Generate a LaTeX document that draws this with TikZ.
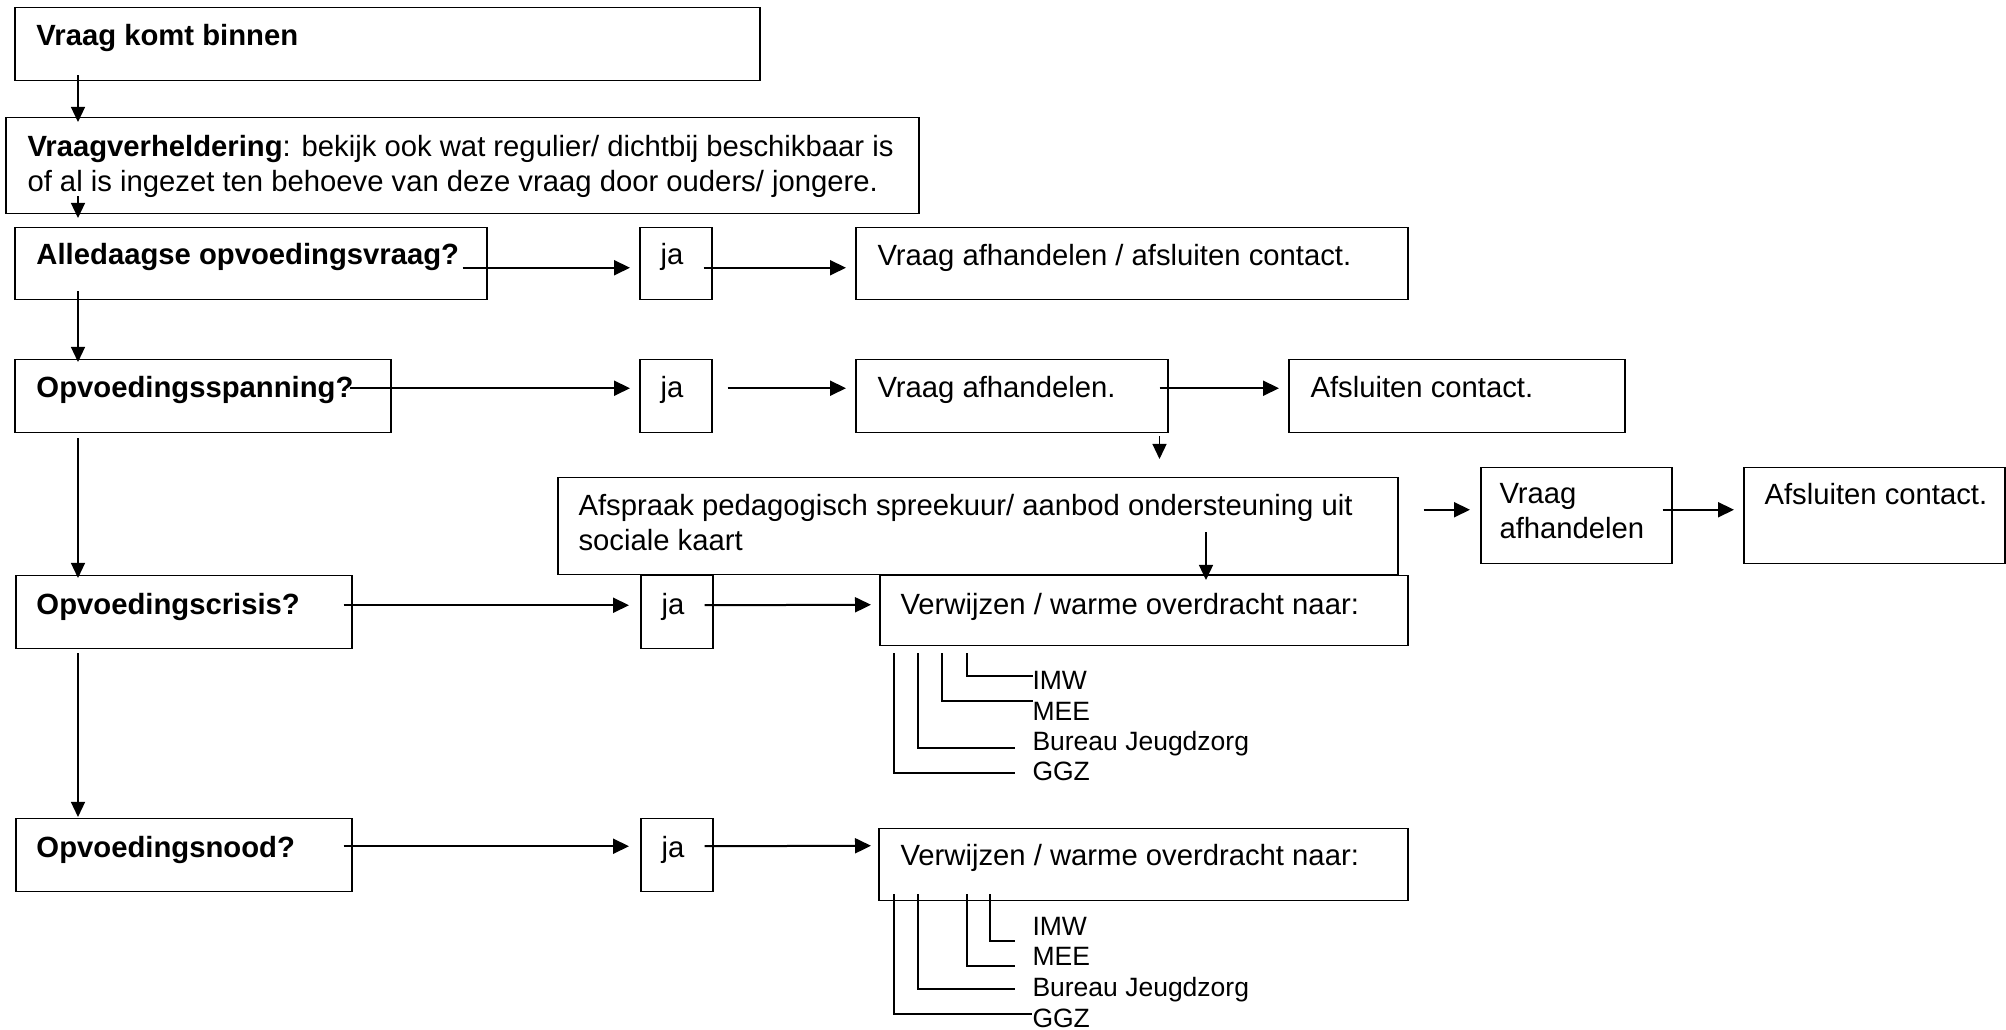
\documentclass[tikz,border=0pt]{standalone}
\usepackage{fontspec}
\setmainfont{Liberation Sans}
\usetikzlibrary{arrows.meta, calc}

\begin{document}
\begin{tikzpicture}[
                x=0.4pt, y=-0.4pt,
                box/.style 2 args={draw, line width=0.6pt, anchor=north west, inner sep=0pt, minimum width=#1*0.4pt, minimum height=#2*0.4pt},
                txt/.style={anchor=base west, inner sep=0pt, align=left, font=\fontsize{11.7pt}{14pt}\selectfont},
                subtxt/.style={anchor=base west, inner sep=0pt, font=\fontsize{10.6pt}{12pt}\selectfont},
                flow/.style={-{Triangle[length=6.4pt, width=6pt]}, line width=0.8pt},
                down/.style={-{Triangle[length=6pt, width=5.6pt]}, line width=0.5pt},
                sublist/.style={line width=0.6pt}
                ]
                \useasboundingbox (0,0) rectangle (2006,1030);

                %% Boxes
                \node[box={745}{73}] (komt) at (14,7) {};
                \node[box={913}{96}] (helder) at (5,117) {};
                \node[box={472}{72}] (alledaags) at (14,227) {};
                \node[box={72}{72}] (ja1) at (639,227) {};
                \node[box={552}{72}] (afh1) at (855,227) {};
                \node[box={376}{73}] (spanning) at (14,359) {};
                \node[box={72}{73}] (ja2) at (639,359) {};
                \node[box={312}{73}] (afh2) at (855,359) {};
                \node[box={336}{73}] (sluit1) at (1288,359) {};
                \node[box={840}{97}] (spreekuur) at (557,477) {};
                \node[box={191}{96}] (afh3) at (1480,467) {};
                \node[box={261}{96}] (sluit2) at (1743,467) {};
                \node[box={336}{73}] (crisis) at (15,575) {};
                \node[box={72}{73}] (ja3) at (640,575) {};
                \node[box={528}{70}] (verw1) at (879,575) {};
                \node[box={336}{73}] (nood) at (15,818) {};
                \node[box={72}{73}] (ja4) at (640,818) {};
                \node[box={529}{72}] (verw2) at (878,828) {};

                %% Texts (two-line texts sit on their last line)
                \node[txt] (komt-t) at ($(komt.north west)+(22,39)$) {\textbf{Vraag komt binnen}};
                \node[txt] (helder-t) at ($(helder.north west)+(22,75)$) {\textbf{Vraagverheldering}: bekijk ook wat regulier/ dichtbij beschikbaar is\\of al is ingezet ten behoeve van deze vraag door ouders/ jongere.};
                \node[txt] (alledaags-t) at ($(alledaags.north west)+(22,38)$) {\textbf{Alledaagse opvoedingsvraag?}};
                \node[txt] (ja1-t) at ($(ja1.north west)+(21,38)$) {ja};
                \node[txt] (afh1-t) at ($(afh1.north west)+(22,39)$) {Vraag afhandelen / afsluiten contact.};
                \node[txt] (spanning-t) at ($(spanning.north west)+(22,39)$) {\textbf{Opvoedingsspanning?}};
                \node[txt] (ja2-t) at ($(ja2.north west)+(21,39)$) {ja};
                \node[txt] (afh2-t) at ($(afh2.north west)+(22,39)$) {Vraag afhandelen.};
                \node[txt] (sluit1-t) at ($(sluit1.north west)+(22,39)$) {Afsluiten contact.};
                \node[txt] (spreekuur-t) at ($(spreekuur.north west)+(21,74)$) {Afspraak pedagogisch spreekuur/ aanbod ondersteuning uit\\sociale kaart};
                \node[txt] (afh3-t) at ($(afh3.north west)+(19,72)$) {Vraag\\afhandelen};
                \node[txt] (sluit2-t) at ($(sluit2.north west)+(21,38)$) {Afsluiten contact.};
                \node[txt] (crisis-t) at ($(crisis.north west)+(21,40)$) {\textbf{Opvoedingscrisis?}};
                \node[txt] (ja3-t) at ($(ja3.north west)+(21,40)$) {ja};
                \node[txt] (verw1-t) at ($(verw1.north west)+(21,40)$) {Verwijzen / warme overdracht naar:};
                \node[txt] (nood-t) at ($(nood.north west)+(21,40)$) {\textbf{Opvoedingsnood?}};
                \node[txt] (ja4-t) at ($(ja4.north west)+(21,40)$) {ja};
                \node[txt] (verw2-t) at ($(verw2.north west)+(22,38)$) {Verwijzen / warme overdracht naar:};

                % Sub lists
                \node[subtxt] (imw1) at (1032,690) {IMW};
                \node[subtxt] (mee1) at (1032,721) {MEE};
                \node[subtxt] (bjz1) at (1032,751) {Bureau Jeugdzorg};
                \node[subtxt] (ggz1) at (1032,781) {GGZ};
                \node[subtxt] (imw2) at (1032,936) {IMW};
                \node[subtxt] (mee2) at (1032,966) {MEE};
                \node[subtxt] (bjz2) at (1032,997) {Bureau Jeugdzorg};
                \node[subtxt] (ggz2) at (1032,1027) {GGZ};

                %% Arrows down the left
                \draw[down] ($(komt.south west)+(64,-6)$) -- ($(helder.north west)+(73,5)$);
                \draw[down] ($(helder.south west)+(73,-18)$) -- ($(alledaags.north west)+(64,-9)$);
                \draw[down] ($(alledaags.south west)+(64,-9)$) -- ($(spanning.north west)+(64,3)$);
                \draw[down] ($(spanning.south west)+(64,5)$) -- ($(crisis.north west)+(63,3)$);
                \draw[down] ($(crisis.south west)+(63,4)$) -- ($(nood.north west)+(63,-1)$);

                %% Rows
                \draw[flow] ($(alledaags.east)+(-25,4)$) -- ($(ja1.west)+(-9,4)$);
                \draw[flow] ($(ja1.east)+(-9,4)$) -- ($(afh1.west)+(-9,4)$);

                \draw[flow] ($(spanning.east)+(-42,-8)$) -- ($(ja2.west)+(-9,-8)$);
                \draw[flow] ($(ja2.east)+(15,-8)$) -- ($(afh2.west)+(-9,-8)$);
                \draw[flow] ($(afh2.east)+(-9,-8)$) -- ($(sluit1.west)+(-9,-8)$);
                \draw[down] ($(afh2.south east)+(-9,3)$) -- ($(afh2.south east |- spreekuur.north)+(-9,-18)$);

                \draw[flow] ($(spreekuur.east |- afh3.west)+(25,-6)$) -- ($(afh3.west)+(-10,-6)$);
                \draw[flow] ($(afh3.east)+(-10,-6)$) -- ($(sluit2.west)+(-9,-6)$);
                \draw[down] ($(spreekuur.south west)+(649,-43)$) -- ($(verw1.north west)+(327,5)$);

                \draw[flow] ($(crisis.east)+(-9,-7)$) -- ($(ja3.west)+(-11,-7)$);
                \draw[flow] ($(ja3.east)+(-9,-7)$) -- ($(verw1.west)+(-8,-6)$);

                \draw[flow] ($(nood.east)+(-9,-9)$) -- ($(ja4.west)+(-11,-9)$);
                \draw[flow] ($(ja4.east)+(-9,-9)$) -- ($(verw2.west)+(-7,-19)$);

                % Branch lines
                \draw[sublist] ($(verw1.south west)+(88,7)$) |- ($(imw1.base west)+(1,-14)$);
                \draw[sublist] ($(verw1.south west)+(63,7)$) |- ($(mee1.base west)+(1,-20)$);
                \draw[sublist] ($(verw1.south west)+(39,7)$) |- ($(bjz1.base west)+(-17,-3)$);
                \draw[sublist] ($(verw1.south west)+(15,7)$) |- ($(ggz1.base west)+(-17,-8)$);

                \draw[sublist] ($(verw2.south west)+(112,-7)$) |- ($(imw2.base west)+(-17,5)$);
                \draw[sublist] ($(verw2.south west)+(89,-7)$) |- ($(mee2.base west)+(-17,0)$);
                \draw[sublist] ($(verw2.south west)+(40,-7)$) |- ($(bjz2.base west)+(-17,-8)$);
                \draw[sublist] ($(verw2.south west)+(16,-7)$) |- ($(ggz2.base west)+(0,-13)$);
\end{tikzpicture}
\end{document}
